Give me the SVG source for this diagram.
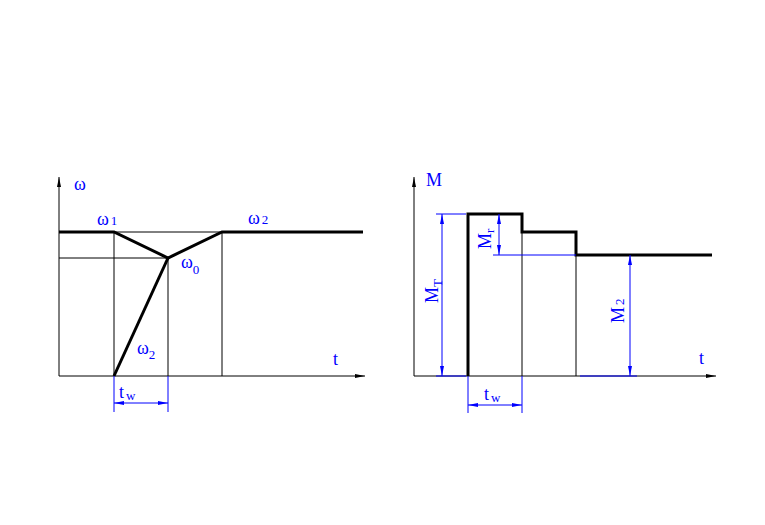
<svg xmlns="http://www.w3.org/2000/svg" width="765" height="525" viewBox="0 0 765 525">
<style>
.t{stroke:#000;stroke-width:1;fill:none}
.k{stroke:#000;stroke-width:3;fill:none}
.b{stroke:#0000ff;stroke-width:1;fill:none}
.l{font-family:"Liberation Serif",serif;fill:#0000ff;font-size:18px}
.s{font-size:13px}
</style>
<defs>
<marker id="ab" markerWidth="10" markerHeight="6" refX="10" refY="3" orient="auto" markerUnits="userSpaceOnUse"><path d="M0,1 L10,3 L0,5 Z" fill="#000"/></marker>
<marker id="bb" markerWidth="10" markerHeight="6" refX="10" refY="3" orient="auto-start-reverse" markerUnits="userSpaceOnUse"><path d="M0,1 L10,3 L0,5 Z" fill="#0000ff"/></marker>
</defs>
<rect width="765" height="525" fill="#fff"/>
<g id="connectors">
<line class="t" x1="59" y1="376" x2="59" y2="177" marker-end="url(#ab)"/>
<line class="t" x1="59" y1="376" x2="365" y2="376" marker-end="url(#ab)"/>
<line class="t" x1="59" y1="232" x2="222" y2="232"/>
<line class="t" x1="59" y1="258" x2="168" y2="258"/>
<line class="t" x1="114" y1="232" x2="114" y2="376"/>
<line class="t" x1="168" y1="258" x2="168" y2="376"/>
<line class="t" x1="222" y1="232" x2="222" y2="376"/>
<polyline class="k" points="59,232 114,232 168,258 222,232 363,232"/>
<line class="k" x1="114" y1="376" x2="168" y2="258"/>
<line class="b" x1="114" y1="376" x2="114" y2="412"/>
<line class="b" x1="168" y1="376" x2="168" y2="412"/>
<line class="b" x1="114" y1="403" x2="168" y2="403" marker-start="url(#bb)" marker-end="url(#bb)"/>
<line class="t" x1="414" y1="376" x2="414" y2="177" marker-end="url(#ab)"/>
<line class="t" x1="414" y1="376" x2="716" y2="376" marker-end="url(#ab)"/>
<line class="t" x1="522" y1="232" x2="522" y2="376"/>
<line class="t" x1="576" y1="255" x2="576" y2="376"/>
<polyline class="k" points="468,376 468,214 522,214 522,232 576,232 576,255 712,255"/>
<line class="b" x1="436" y1="214" x2="466" y2="214"/>
<line class="b" x1="436" y1="376" x2="466" y2="376"/>
<line class="b" x1="442" y1="214" x2="442" y2="376" marker-start="url(#bb)" marker-end="url(#bb)"/>
<line class="b" x1="493" y1="255" x2="576" y2="255"/>
<line class="b" x1="499" y1="214" x2="499" y2="255" marker-start="url(#bb)" marker-end="url(#bb)"/>
<line class="b" x1="580" y1="376" x2="637" y2="376"/>
<line class="b" x1="630" y1="255" x2="630" y2="376" marker-start="url(#bb)" marker-end="url(#bb)"/>
<line class="b" x1="468" y1="376" x2="468" y2="413"/>
<line class="b" x1="522" y1="376" x2="522" y2="413"/>
<line class="b" x1="468" y1="405" x2="522" y2="405" marker-start="url(#bb)" marker-end="url(#bb)"/>
</g>
<g id="labels-left">
<text class="l" x="74" y="190">ω</text>
<text class="l" x="97" y="225">ω<tspan class="s" dx="2">1</tspan></text>
<text class="l" x="248" y="224">ω<tspan class="s" dx="2">2</tspan></text>
<text class="l" x="181" y="268">ω<tspan class="s" dy="6">0</tspan></text>
<text class="l" x="137" y="354">ω<tspan class="s" dy="5">2</tspan></text>
<text class="l" x="333" y="365">t</text>
<text class="l" x="119" y="398">t<tspan class="s" dx="2" dy="2">w</tspan></text>
</g>
<g id="labels-right">
<text class="l" x="426" y="186">M</text>
<text class="l" x="699" y="364">t</text>
<text class="l" x="484" y="400">t<tspan class="s" dx="2" dy="2">w</tspan></text>
<text class="l" transform="translate(438,303) rotate(-90)">M<tspan class="s" dy="4">T</tspan></text>
<text class="l" transform="translate(491,249) rotate(-90)">M<tspan class="s" dy="3">r</tspan></text>
<text class="l" transform="translate(624,323) rotate(-90)">M<tspan class="s" dx="2">2</tspan></text>
</g>
</svg>
